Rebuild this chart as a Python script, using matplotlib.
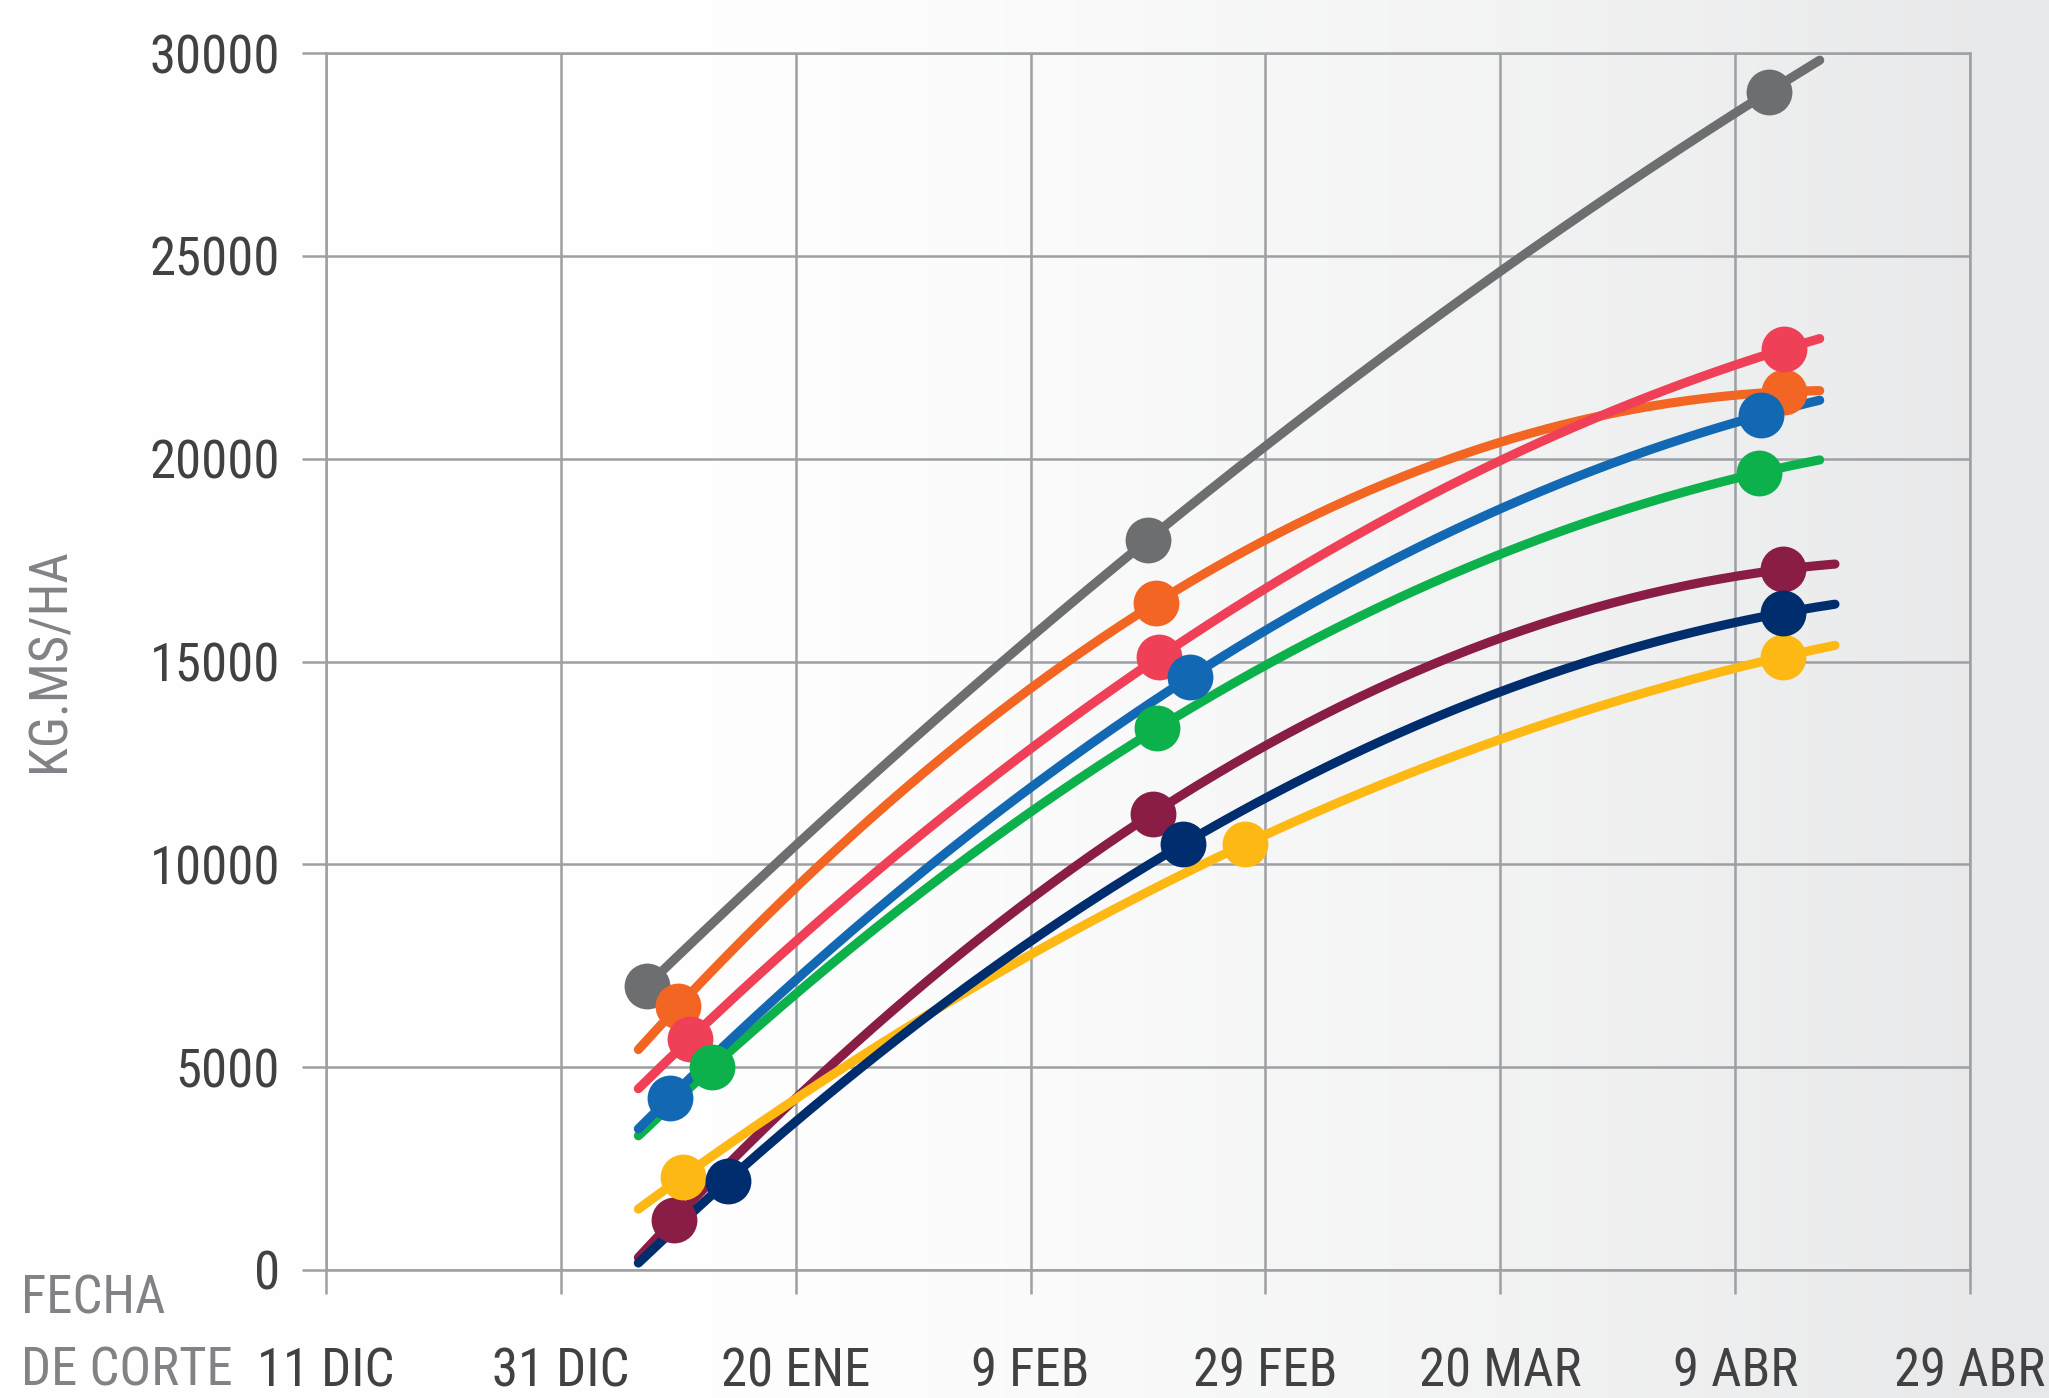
import numpy as np
import matplotlib
matplotlib.use("Agg")
import matplotlib.pyplot as plt
from matplotlib import font_manager

# eje x: dias desde el 11 DIC
tick_days = [0, 20, 40, 60, 80, 100, 120, 140]
tick_labels = ['11 DIC', '31 DIC', '20 ENE', '9 FEB', '29 FEB', '20 MAR', '9 ABR', '29 ABR']
y_ticks = [0, 5000, 10000, 15000, 20000, 25000, 30000]

# fechas de corte (dias) y kg MS/ha de cada serie
gris_x = [27.3, 70.0, 122.9]
gris_y = [7000, 18000, 29050]
naranja_x = [30.0, 70.7, 124.2]
naranja_y = [6500, 16450, 21650]
rosa_x = [31.0, 70.9, 124.2]
rosa_y = [5700, 15100, 22700]
verde_x = [32.9, 70.8, 122.0]
verde_y = [5000, 13350, 19650]
azul_x = [29.3, 73.6, 122.2]
azul_y = [4250, 14620, 21070]
bordo_x = [29.6, 70.4, 124.1]
bordo_y = [1230, 11250, 17270]
amarillo_x = [30.4, 78.3, 124.1]
amarillo_y = [2300, 10500, 15120]
marino_x = [34.2, 73.0, 124.1]
marino_y = [2200, 10500, 16200]

# rango de la linea de tendencia (dias)
trend_start = [27.3, 26.6, 26.6, 26.6, 26.6, 26.6, 26.6, 26.6]
trend_end = [127.2, 127.2, 127.2, 127.2, 127.2, 128.5, 128.5, 128.5]

series = [
    (gris_x, gris_y, '#6D6E70'),
    (naranja_x, naranja_y, '#F26522'),
    (rosa_x, rosa_y, '#EF4058'),
    (verde_x, verde_y, '#0DB14B'),
    (azul_x, azul_y, '#1268B3'),
    (bordo_x, bordo_y, '#891D46'),
    (amarillo_x, amarillo_y, '#FDB813'),
    (marino_x, marino_y, '#002D6E'),
]

names = {f.name for f in font_manager.fontManager.ttflist}
font = 'DejaVu Sans'
for cand in ['Roboto Condensed', 'Liberation Sans Narrow', 'Open Sans Condensed', 'Noto Sans Condensed']:
    if cand in names:
        font = cand
        break
plt.rcParams['font.family'] = [font, 'DejaVu Sans']

grid_c = '#9D9FA2'
dark = '#414042'
soft = '#808285'
fs = 38

fig = plt.figure(figsize=(20.49, 13.98), dpi=100)

# fondo degradado blanco -> gris claro
bg = fig.add_axes([0, 0, 1, 1], zorder=-10)
xs = np.linspace(0, 1, 400)
shade = np.clip((xs - 0.35) / 0.65, 0, 1) ** 1.3
col_l = np.array([254, 254, 254]) / 255
col_r = np.array([231, 232, 233]) / 255
grad = col_l[None, :] * (1 - shade[:, None]) + col_r[None, :] * shade[:, None]
bg.imshow(grad[None, :, :], aspect='auto', extent=[0, 1, 0, 1])
bg.axis('off')

ax = fig.add_axes([326 / 2049, 1 - 1270 / 1398, (1970 - 326) / 2049, (1270 - 53) / 1398])
ax.set_facecolor('none')

for (x, y, c), x0, x1 in zip(series, trend_start, trend_end):
    coef = np.polyfit(x, y, 2)
    xt = np.linspace(x0, x1, 200)
    ax.plot(xt, np.polyval(coef, xt), color=c, lw=6.6, solid_capstyle='round', zorder=3)

for x, y, c in series:
    ax.plot(x, y, 'o', color=c, markersize=33, markeredgewidth=0, zorder=4)

ax.set_xlim(0, 140)
ax.set_ylim(0, 30000)
ax.set_xticks(tick_days)
ax.set_xticklabels(tick_labels)
ax.set_yticks(y_ticks)
ax.set_yticklabels([str(v) for v in y_ticks])
ax.grid(True, color=grid_c, lw=1.8)
ax.set_axisbelow(True)
for s in ax.spines.values():
    s.set_color(grid_c)
    s.set_linewidth(1.8)
ax.tick_params(axis='both', direction='out', length=17, width=1.8, color=grid_c,
               labelcolor=dark, labelsize=fs)
ax.tick_params(axis='y', pad=16)
ax.tick_params(axis='x', pad=38)

fig.text(50 / 2049, 1 - 660 / 1398, 'KG.MS/HA', rotation=90, color=soft, fontsize=fs,
         ha='center', va='center')
fig.text(21 / 2049, 1 - 1313 / 1398, 'FECHA', color=soft, fontsize=fs, ha='left', va='baseline')
fig.text(21 / 2049, 1 - 1396 / 1398, 'DE CORTE', color=soft, fontsize=fs, ha='left', va='bottom')

fig.savefig('out.png', dpi=100)
